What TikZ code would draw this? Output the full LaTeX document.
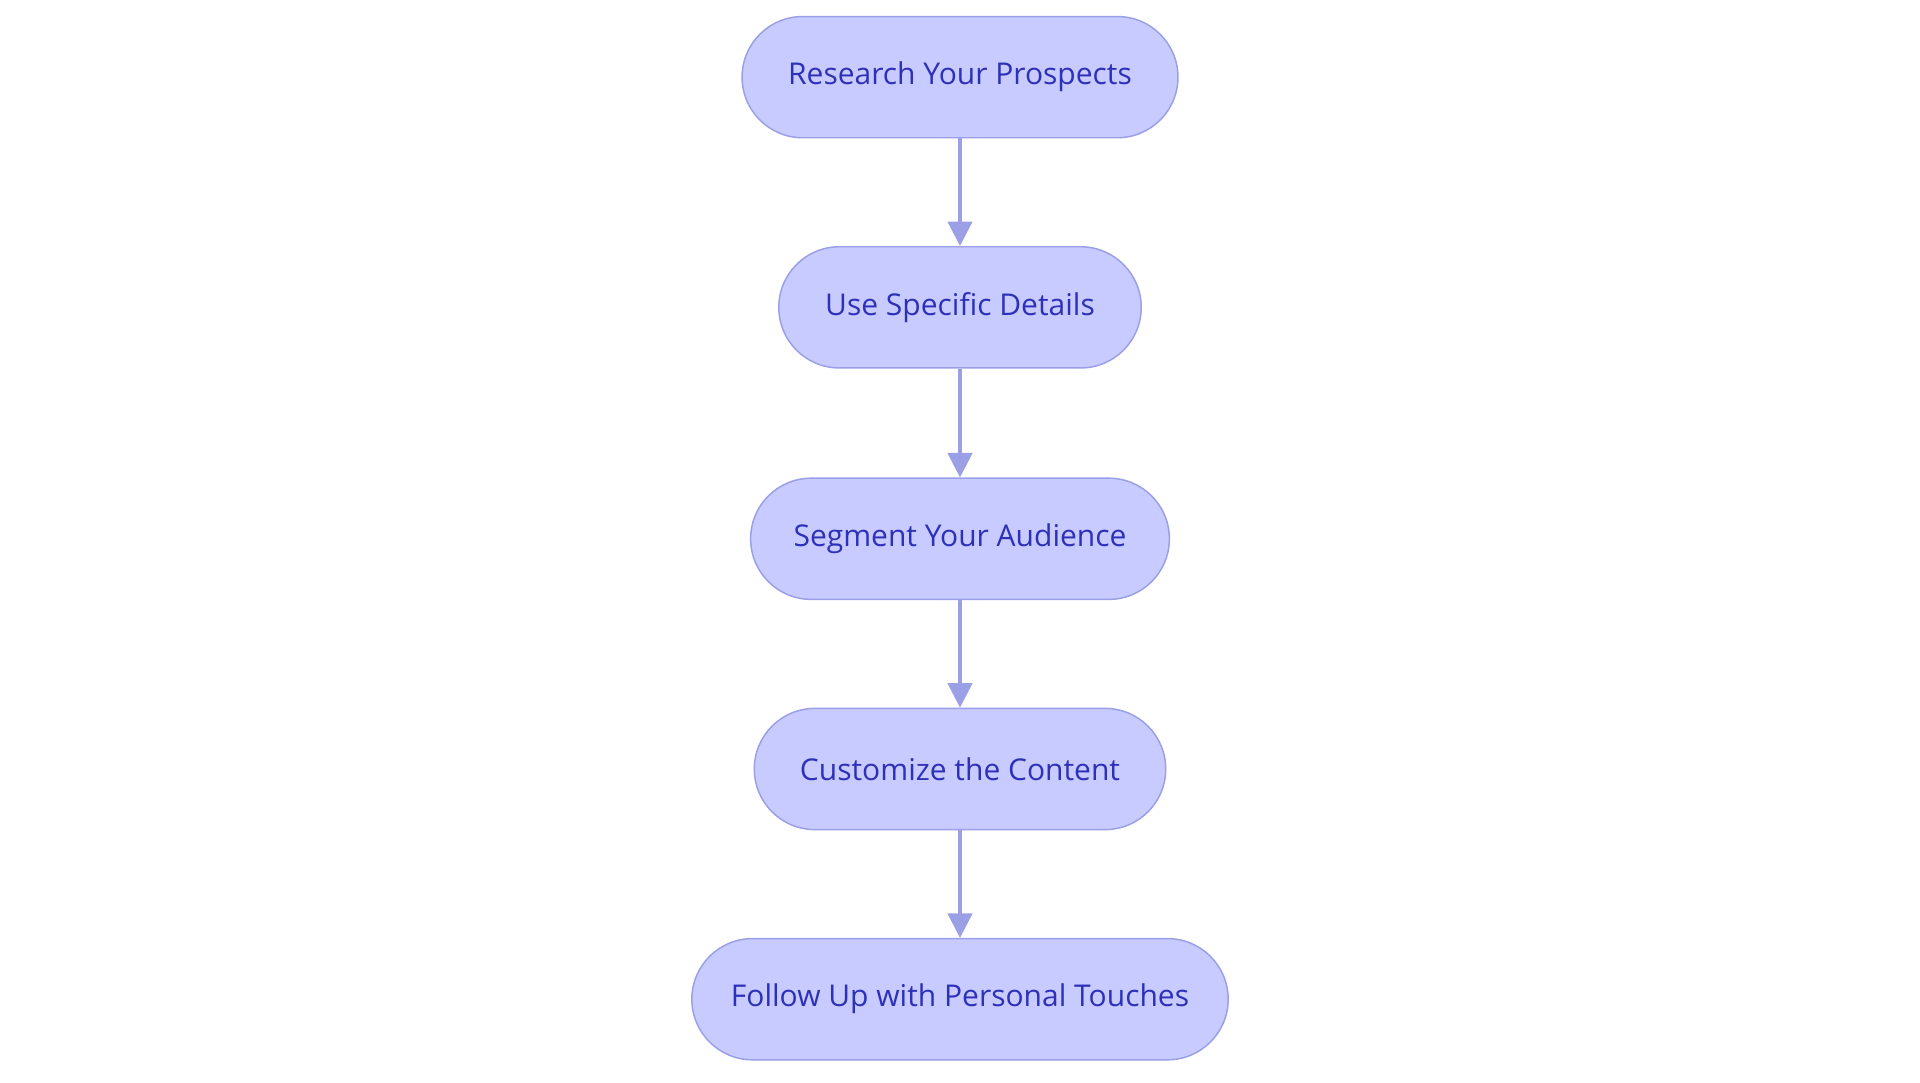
\documentclass[tikz,border=0pt]{standalone}
\usepackage{fontspec}
\setmainfont{Open Sans}
\usetikzlibrary{arrows.meta}
\definecolor{nfill}{HTML}{C8CBFF}
\definecolor{nline}{HTML}{9A9FE6}
\definecolor{ntext}{HTML}{2E30B8}
\begin{document}
\begin{tikzpicture}[x=1pt,y=-1pt,
  box/.style={rectangle, rounded corners=49.5pt, draw=nline, line width=1.2pt, fill=nfill, text=ntext,
    minimum height=99pt, font=\fontsize{24.5}{28}\selectfont, inner sep=0pt},
  arr/.style={draw=nline, line width=2.5pt, -{Triangle[length=20pt,width=20pt]}}]
\useasboundingbox (0,0) rectangle (1568,884);
\node[box, minimum width=356pt] (a) at (784,63) {Research Your Prospects};
\node[box, minimum width=296pt] (b) at (784,251) {Use Specific Details};
\node[box, minimum width=342pt] (c) at (784,440) {Segment Your Audience};
\node[box, minimum width=336pt] (d) at (784,628) {Customize the Content};
\node[box, minimum width=438pt] (e) at (784,816) {Follow Up with Personal Touches};
\draw[arr] (a) -- (b);
\draw[arr] (b) -- (c);
\draw[arr] (c) -- (d);
\draw[arr] (d) -- (e);
\end{tikzpicture}
\end{document}
